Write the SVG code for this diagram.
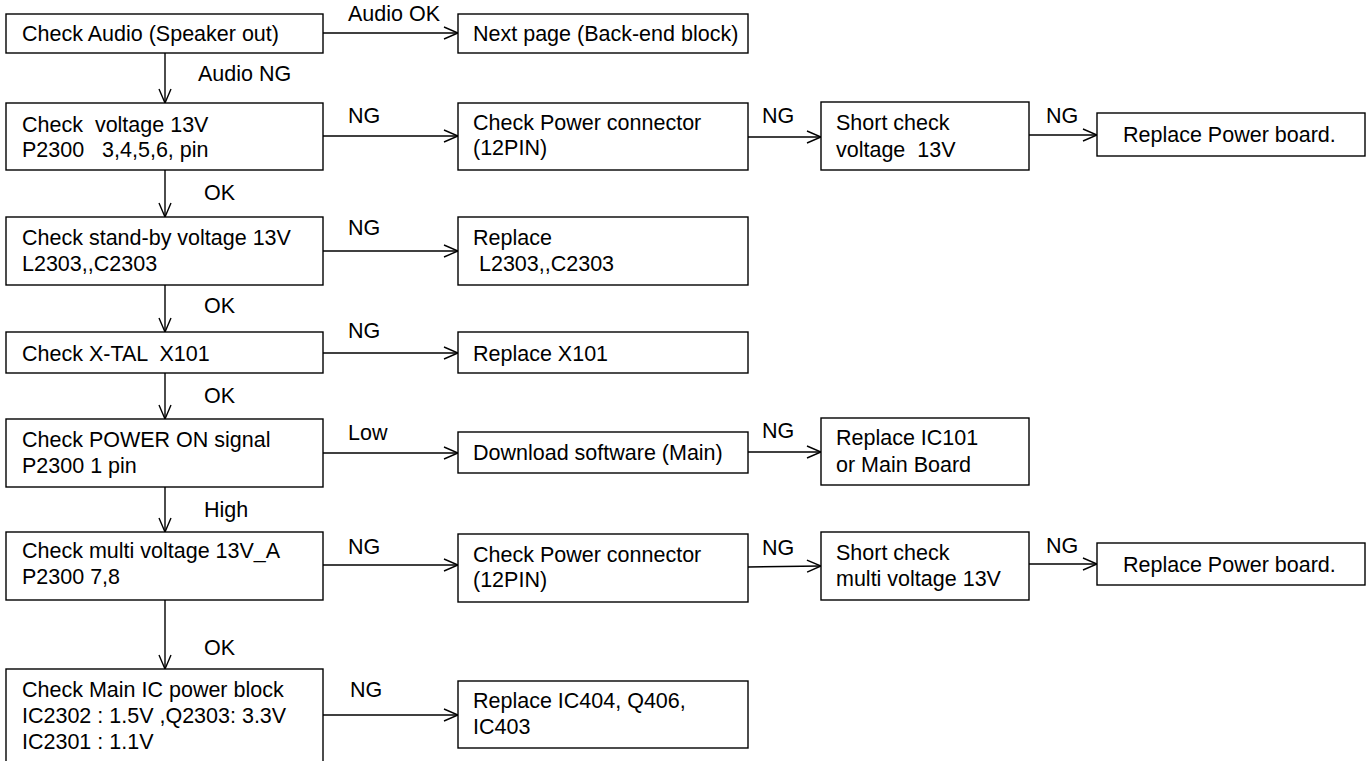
<svg xmlns="http://www.w3.org/2000/svg" width="1369" height="761" viewBox="0 0 1369 761">
<defs>
<style>
.box{fill:#fff;stroke:#000;stroke-width:1.4}
.t{font-family:"Liberation Sans",Arial,sans-serif;font-size:21.5px;fill:#000;white-space:pre}
.c{stroke:#000;stroke-width:1.4;fill:none;marker-end:url(#ah)}
</style>
<marker id="ah" markerUnits="userSpaceOnUse" markerWidth="20" markerHeight="20" refX="15" refY="7" orient="auto" overflow="visible">
<path d="M1,1 L15,7 L1,13" fill="none" stroke="#000" stroke-width="1.4"/>
</marker>
</defs>
<rect width="1369" height="761" fill="#fff"/>
<g id="connectors">
<line class="c" x1="323" y1="33" x2="458" y2="33"/>
<line class="c" x1="165" y1="53" x2="165" y2="103"/>
<line class="c" x1="323" y1="136" x2="458" y2="136"/>
<line class="c" x1="748" y1="137" x2="821" y2="137"/>
<line class="c" x1="1029" y1="135" x2="1097" y2="135"/>
<line class="c" x1="165" y1="170" x2="165" y2="217"/>
<line class="c" x1="323" y1="251" x2="458" y2="251"/>
<line class="c" x1="165" y1="285" x2="165" y2="332"/>
<line class="c" x1="323" y1="353" x2="458" y2="353"/>
<line class="c" x1="165" y1="373" x2="165" y2="419"/>
<line class="c" x1="323" y1="453" x2="458" y2="453"/>
<line class="c" x1="748" y1="452" x2="821" y2="452"/>
<line class="c" x1="165" y1="487" x2="165" y2="532"/>
<line class="c" x1="323" y1="565" x2="458" y2="565"/>
<line class="c" x1="748" y1="567" x2="821" y2="566"/>
<line class="c" x1="1029" y1="564" x2="1097" y2="564"/>
<line class="c" x1="165" y1="600" x2="165" y2="669"/>
<line class="c" x1="323" y1="715" x2="458" y2="715"/>
<text class="t" x="348" y="21">Audio OK</text>
<text class="t" x="198" y="81">Audio NG</text>
<text class="t" x="348" y="123">NG</text>
<text class="t" x="762" y="123">NG</text>
<text class="t" x="1046" y="123">NG</text>
<text class="t" x="204" y="200">OK</text>
<text class="t" x="348" y="235">NG</text>
<text class="t" x="204" y="313">OK</text>
<text class="t" x="348" y="338">NG</text>
<text class="t" x="204" y="403">OK</text>
<text class="t" x="348" y="440">Low</text>
<text class="t" x="762" y="438">NG</text>
<text class="t" x="204" y="517">High</text>
<text class="t" x="348" y="554">NG</text>
<text class="t" x="762" y="555">NG</text>
<text class="t" x="1046" y="553">NG</text>
<text class="t" x="204" y="655">OK</text>
<text class="t" x="350" y="697">NG</text>
</g>
<g id="box-a"><rect class="box" x="6" y="14" width="317" height="39"/><text class="t" x="22" y="41">Check Audio (Speaker out)</text></g>
<g id="box-b"><rect class="box" x="6" y="103" width="317" height="67"/><text class="t" x="22" y="132">Check  voltage 13V</text><text class="t" x="22" y="157">P2300   3,4,5,6, pin</text></g>
<g id="box-c"><rect class="box" x="6" y="217" width="317" height="68"/><text class="t" x="22" y="245">Check stand-by voltage 13V</text><text class="t" x="22" y="271">L2303,,C2303</text></g>
<g id="box-d"><rect class="box" x="6" y="332" width="317" height="41"/><text class="t" x="22" y="361">Check X-TAL  X101</text></g>
<g id="box-e"><rect class="box" x="6" y="419" width="317" height="68"/><text class="t" x="22" y="447">Check POWER ON signal</text><text class="t" x="22" y="473">P2300 1 pin</text></g>
<g id="box-f"><rect class="box" x="6" y="532" width="317" height="68"/><text class="t" x="22" y="558">Check multi voltage 13V_A</text><text class="t" x="22" y="584">P2300 7,8</text></g>
<g id="box-g"><rect class="box" x="6" y="669" width="317" height="101"/><text class="t" x="22" y="697">Check Main IC power block</text><text class="t" x="22" y="723">IC2302 : 1.5V ,Q2303: 3.3V</text><text class="t" x="22" y="749">IC2301 : 1.1V</text></g>
<g id="next-page"><rect class="box" x="458" y="14" width="290" height="39"/><text class="t" x="473" y="41">Next page (Back-end block)</text></g>
<g id="power-conn-1"><rect class="box" x="458" y="103" width="290" height="67"/><text class="t" x="473" y="130">Check Power connector</text><text class="t" x="473" y="155">(12PIN)</text></g>
<g id="replace-l2303"><rect class="box" x="458" y="217" width="290" height="68"/><text class="t" x="473" y="245">Replace</text><text class="t" x="473" y="271"> L2303,,C2303</text></g>
<g id="replace-x101"><rect class="box" x="458" y="332" width="290" height="41"/><text class="t" x="473" y="361">Replace X101</text></g>
<g id="download"><rect class="box" x="458" y="432" width="290" height="41"/><text class="t" x="473" y="460">Download software (Main)</text></g>
<g id="power-conn-2"><rect class="box" x="458" y="534" width="290" height="68"/><text class="t" x="473" y="562">Check Power connector</text><text class="t" x="473" y="587">(12PIN)</text></g>
<g id="replace-ic404"><rect class="box" x="458" y="681" width="290" height="67"/><text class="t" x="473" y="708">Replace IC404, Q406,</text><text class="t" x="473" y="734">IC403</text></g>
<g id="short-1"><rect class="box" x="821" y="102" width="208" height="68"/><text class="t" x="836" y="130">Short check</text><text class="t" x="836" y="157">voltage  13V</text></g>
<g id="replace-ic101"><rect class="box" x="821" y="418" width="208" height="67"/><text class="t" x="836" y="445">Replace IC101</text><text class="t" x="836" y="472">or Main Board</text></g>
<g id="short-2"><rect class="box" x="821" y="532" width="208" height="68"/><text class="t" x="836" y="560">Short check</text><text class="t" x="836" y="586">multi voltage 13V</text></g>
<g id="power-board-1"><rect class="box" x="1097" y="113" width="268" height="43"/><text class="t" x="1123" y="142">Replace Power board.</text></g>
<g id="power-board-2"><rect class="box" x="1097" y="543" width="268" height="42"/><text class="t" x="1123" y="572">Replace Power board.</text></g>
</svg>
